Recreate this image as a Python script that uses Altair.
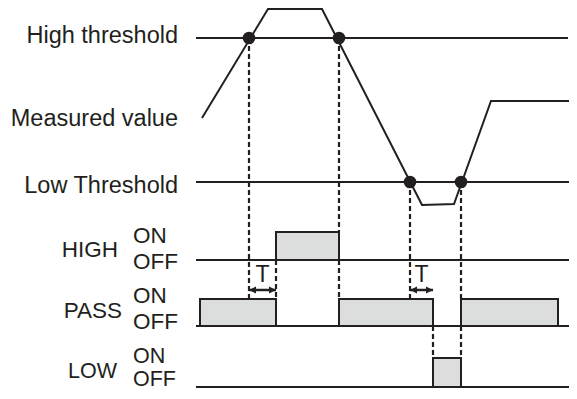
import altair as alt
import pandas as pd

# Measured value waveform (time, level in picture units; level grows downward)
meas_time = [202, 268, 322, 422, 454, 491, 569]
meas_level = [118, 9, 9, 205, 204, 101, 101]

# Horizontal threshold / OFF lines
hline_name = ["High threshold", "Low Threshold", "HIGH OFF", "PASS OFF", "LOW OFF"]
hline_level = [38, 182, 260, 326, 387]
hline_start = [196, 196, 196, 196, 196]
hline_end = [568, 569, 569, 569, 569]

# Threshold crossing events
cross_time = [249, 339, 410, 461]
cross_level = [38, 38, 182, 182]

# Output pulses
pulse_signal = ["HIGH", "PASS", "PASS", "PASS", "LOW"]
pulse_start = [276, 200, 339, 461, 433]
pulse_end = [339, 276, 433, 558, 461]
pulse_on = [232, 299, 299, 299, 358]
pulse_off = [260, 326, 326, 326, 387]

# Dashed guide segments
guide_time = [249, 276, 339, 339, 410, 433, 461, 461]
guide_top = [38, 260, 38, 260, 182, 326, 182, 326]
guide_bottom = [299, 299, 232, 299, 299, 358, 299, 358]

# Delay T markers
delay_start = [249, 410]
delay_end = [276, 433]
delay_level = [290, 290]
delay_label_level = [282, 282]

# Labels
label_text = ["High threshold", "Measured value", "Low Threshold"]
label_time = [178, 178, 178]
label_level = [43, 126, 193]
signal_text = ["HIGH", "PASS"]
signal_time = [118, 122]
signal_level = [257, 318]
state_text = ["ON", "OFF", "ON", "OFF"]
state_time = [133, 133, 133, 133]
state_level = [243, 269, 303, 329]
low_text = ["LOW", "ON", "OFF"]
low_time = [117, 133, 133]
low_level = [378, 363, 386]
low_align = ["right", "left", "left"]

INK = "#231f20"
FILL = "#dcdddd"
FONT = "Liberation Sans"

xs = alt.Scale(domain=[8, 569], nice=False, zero=False)
ys = alt.Scale(domain=[8, 391], nice=False, zero=False, reverse=True)
X = lambda f: alt.X(f, type="quantitative", scale=xs, axis=None)
Y = lambda f: alt.Y(f, type="quantitative", scale=ys, axis=None)

meas_df = pd.DataFrame({"t": meas_time, "v": meas_level, "i": range(len(meas_time))})
hl_df = pd.DataFrame({"name": hline_name, "v": hline_level, "t0": hline_start, "t1": hline_end})
cr_df = pd.DataFrame({"t": cross_time, "v": cross_level})
pu_df = pd.DataFrame({"s": pulse_signal, "t0": pulse_start, "t1": pulse_end, "on": pulse_on, "off": pulse_off})
gd_df = pd.DataFrame({"t": guide_time, "v0": guide_top, "v1": guide_bottom})
dl_df = pd.DataFrame({"t0": delay_start, "t1": delay_end, "v": delay_level,
                      "tm": [(a + b) / 2 for a, b in zip(delay_start, delay_end)],
                      "lv": delay_label_level, "lab": ["T", "T"]})
lb_df = pd.DataFrame({"text": label_text, "t": label_time, "v": label_level})
sg_df = pd.DataFrame({"text": signal_text, "t": signal_time, "v": signal_level})
st_df = pd.DataFrame({"text": state_text, "t": state_time, "v": state_level})
lw_df = pd.DataFrame({"text": low_text, "t": low_time, "v": low_level, "a": low_align})

hlines = alt.Chart(hl_df).mark_rule(color=INK, strokeWidth=2).encode(
    x=X("t0"), x2="t1", y=Y("v"))

pulses = alt.Chart(pu_df).mark_rect(fill=FILL, stroke=INK, strokeWidth=2).encode(
    x=X("t0"), x2="t1", y=Y("on"), y2="off")

guides = alt.Chart(gd_df).mark_rule(color=INK, strokeWidth=2.2, strokeDash=[5, 3]).encode(
    x=X("t"), y=Y("v0"), y2="v1")

meas = alt.Chart(meas_df).mark_line(color=INK, strokeWidth=2).encode(
    x=X("t"), y=Y("v"), order="i:Q")

dots = alt.Chart(cr_df).mark_point(filled=True, color=INK, size=160, opacity=1, shape="circle").encode(
    x=X("t"), y=Y("v"))

arrow_line = alt.Chart(dl_df).mark_rule(color=INK, strokeWidth=2.5).encode(
    x=X("t0"), x2="t1", y=Y("v"))
arrow_l = alt.Chart(dl_df).mark_point(filled=True, color=INK, opacity=1, size=49,
                                      shape="M0,0L2,-1L2,1Z").encode(x=X("t0"), y=Y("v"))
arrow_r = alt.Chart(dl_df).mark_point(filled=True, color=INK, opacity=1, size=49,
                                      shape="M0,0L-2,-1L-2,1Z").encode(x=X("t1"), y=Y("v"))
t_text = alt.Chart(dl_df).mark_text(font=FONT, fontSize=23, color=INK, align="center",
                                    baseline="alphabetic").encode(x=X("tm"), y=Y("lv"), text="lab:N")

labels = alt.Chart(lb_df).mark_text(font=FONT, fontSize=23.5, color=INK, align="right",
                                    baseline="alphabetic").encode(x=X("t"), y=Y("v"), text="text:N")
signals = alt.Chart(sg_df).mark_text(font=FONT, fontSize=22.5, color=INK, align="right",
                                     baseline="alphabetic").encode(x=X("t"), y=Y("v"), text="text:N")
states = alt.Chart(st_df).mark_text(font=FONT, fontSize=22.5, color=INK, align="left",
                                    baseline="alphabetic").encode(x=X("t"), y=Y("v"), text="text:N")
low_right = alt.Chart(lw_df).transform_filter(alt.datum.a == "right").mark_text(
    font=FONT, fontSize=21.5, color=INK, align="right", baseline="alphabetic").encode(
    x=X("t"), y=Y("v"), text="text:N")
low_left = alt.Chart(lw_df).transform_filter(alt.datum.a == "left").mark_text(
    font=FONT, fontSize=21.5, color=INK, align="left", baseline="alphabetic").encode(
    x=X("t"), y=Y("v"), text="text:N")

chart = alt.layer(hlines, pulses, guides, meas, dots, arrow_line, arrow_l, arrow_r, t_text,
                  labels, signals, states, low_right, low_left).properties(
    width=561, height=383, padding=0,
    autosize=alt.AutoSizeParams(type="none"),
    background="white",
).configure_view(stroke=None)

chart.save("out.html", embed_options={"renderer": "svg", "actions": False})
